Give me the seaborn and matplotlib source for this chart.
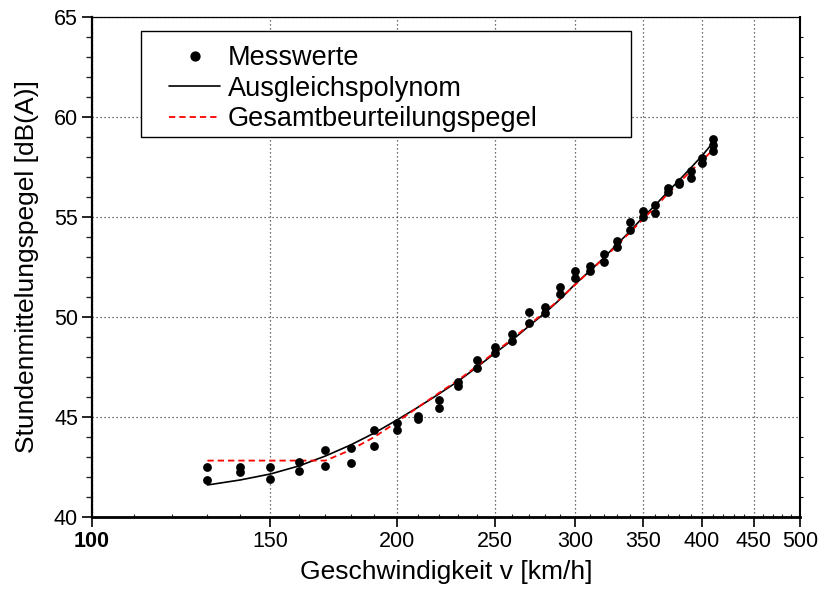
import numpy as np
import pandas as pd
import matplotlib
matplotlib.use("Agg")
import matplotlib.pyplot as plt
from matplotlib.lines import Line2D
from matplotlib.patches import Rectangle
from matplotlib.ticker import FixedLocator, NullFormatter
import seaborn as sns

# Measured hourly average levels per speed
mess_v = [130, 130, 140, 140, 150, 150, 160, 160, 170, 170, 180, 180, 190, 190,
          200, 200, 210, 210, 220, 220, 230, 230, 240, 240, 250, 250, 260, 260,
          270, 270, 280, 280, 290, 290, 300, 300, 310, 310, 320, 320, 330, 330,
          340, 340, 350, 350, 360, 360, 370, 370, 380, 380, 390, 390, 400, 400,
          410, 410, 410]
mess_L = [42.48, 41.85, 42.48, 42.23, 42.48, 41.88, 42.75, 42.32, 43.35, 42.55,
          43.47, 42.68, 44.35, 43.55, 44.68, 44.35, 45.05, 44.90, 45.85, 45.43,
          46.77, 46.55, 47.85, 47.43, 48.52, 48.18, 49.15, 48.82, 50.23, 49.72,
          50.48, 50.22, 51.48, 51.15, 52.30, 51.93, 52.55, 52.30, 53.15, 52.77,
          53.82, 53.52, 54.77, 54.35, 55.32, 55.02, 55.60, 55.18, 56.47, 56.27,
          56.77, 56.63, 57.32, 56.93, 57.97, 57.72, 58.88, 58.60, 58.32]

# Fitted polynomial and overall rating level, sampled every 10 km/h
kurve_v = [130, 140, 150, 160, 170, 180, 190, 200, 210, 220, 230, 240, 250, 260,
           270, 280, 290, 300, 310, 320, 330, 340, 350, 360, 370, 380, 390, 400, 410]
polynom_L = [41.60, 41.85, 42.15, 42.55, 43.05, 43.60, 44.20, 44.85, 45.50, 46.15,
             46.80, 47.50, 48.20, 48.85, 49.55, 50.20, 50.90, 51.65, 52.30, 52.95,
             53.65, 54.30, 55.00, 55.60, 56.25, 56.85, 57.45, 58.05, 58.70]
gesamt_L = [42.82, 42.82, 42.82, 42.82, 42.82, 43.35, 44.00, 44.75, 45.50, 46.20,
            46.85, 47.55, 48.25, 48.90, 49.60, 50.25, 50.92, 51.62, 52.30, 52.92,
            53.60, 54.25, 54.90, 55.50, 56.15, 56.72, 57.30, 57.80, 58.35]

x_ticks = [100, 150, 200, 250, 300, 350, 400, 450, 500]
x_ticklabels = ["100", "150", "200", "250", "300", "350", "400", "450", "500"]
y_ticks = [40, 45, 50, 55, 60, 65]

sns.set_style("white")
plt.rcParams["font.family"] = ["Liberation Sans", "DejaVu Sans"]
plt.rcParams["text.color"] = "black"
plt.rcParams["axes.labelcolor"] = "black"

W, H = 824, 601
fig = plt.figure(figsize=(W / 100, H / 100), dpi=100)
ax = fig.add_axes([92 / W, 1 - 517 / H, 708 / W, 500 / H])

df_mess = pd.DataFrame({"v": mess_v, "L": mess_L})
df_kurve = pd.DataFrame({"v": kurve_v, "poly": polynom_L, "gesamt": gesamt_L})

ax.set_xscale("log")

red_dash = (0, (3.5, 2.2))
sns.lineplot(data=df_kurve, x="v", y="poly", ax=ax, color="black", lw=1.2,
             estimator=None, sort=False, zorder=3)
sns.lineplot(data=df_kurve, x="v", y="gesamt", ax=ax, color="#ff0000", lw=1.3,
             linestyle=red_dash, estimator=None, sort=False, zorder=4)
sns.scatterplot(data=df_mess, x="v", y="L", ax=ax, color="black", s=40,
                linewidth=0, zorder=5)

ax.set_xlim(100, 500)
ax.set_ylim(40, 65)

ax.xaxis.set_major_locator(FixedLocator(x_ticks))
ax.set_xticklabels(x_ticklabels)
ax.xaxis.set_minor_locator(FixedLocator([v for v in range(110, 500, 10) if v not in x_ticks]))
ax.xaxis.set_minor_formatter(NullFormatter())
ax.set_yticks(y_ticks)
ax.yaxis.set_minor_locator(FixedLocator([v for v in range(41, 65) if v % 5]))

ax.tick_params(axis="both", which="major", labelsize=15.5, colors="black",
               length=7, width=1.2, direction="out", pad=3)
ax.tick_params(axis="y", which="minor", length=4.5, width=1.0, direction="out", left=True)
ax.tick_params(axis="x", which="minor", length=2.5, width=0.8, direction="in", bottom=True)
ax.tick_params(axis="x", which="major", bottom=True)
ax.tick_params(axis="y", which="major", left=True)
ax.get_xticklabels()[0].set_fontweight("bold")

# short minor ticks on the right frame
ax2 = ax.twinx()
ax2.set_ylim(40, 65)
ax2.yaxis.set_major_locator(FixedLocator([]))
ax2.yaxis.set_minor_locator(FixedLocator([v for v in range(41, 65) if v % 5]))
ax2.yaxis.set_minor_formatter(NullFormatter())
ax2.tick_params(axis="y", which="minor", length=2.5, width=0.8, direction="out",
                right=True, colors="black")
for s in ax2.spines.values():
    s.set_visible(False)

ax.grid(True, which="major", axis="both", color="0.25", linestyle=(0, (1, 2.2)), lw=0.9)

for side, lw in {"left": 1.6, "bottom": 2.0, "right": 1.5, "top": 0.9}.items():
    ax.spines[side].set_visible(True)
    ax.spines[side].set_color("black")
    ax.spines[side].set_linewidth(lw)

ax.set_xlabel("Geschwindigkeit v [km/h]", fontsize=19, labelpad=6, color="black")
ax.set_ylabel("Stundenmittelungspegel [dB(A)]", fontsize=19, labelpad=11, color="black")

# legend box
ax.add_patch(Rectangle((49 / 708, (517 - 137) / 500), 490 / 708, 106 / 500,
                       transform=ax.transAxes, facecolor="white", edgecolor="black",
                       lw=1.0, zorder=9, clip_on=False))
handles = [
    Line2D([], [], marker="o", color="black", linestyle="none", markersize=6.4),
    Line2D([], [], color="black", lw=1.2),
    Line2D([], [], color="#ff0000", lw=1.3, linestyle=red_dash),
]
labels = ["Messwerte", "Ausgleichspolynom", "Gesamtbeurteilungspegel"]
leg = ax.legend(handles, labels, loc="upper left",
                bbox_to_anchor=((169 - 92) / 708, (517 - 45) / 500),
                borderaxespad=0, borderpad=0, fontsize=19.5, frameon=False,
                handlelength=1.9, handletextpad=0.27, labelspacing=0.17,
                labelcolor="black")
leg.set_zorder(10)

fig.savefig("out.png", dpi=100)
